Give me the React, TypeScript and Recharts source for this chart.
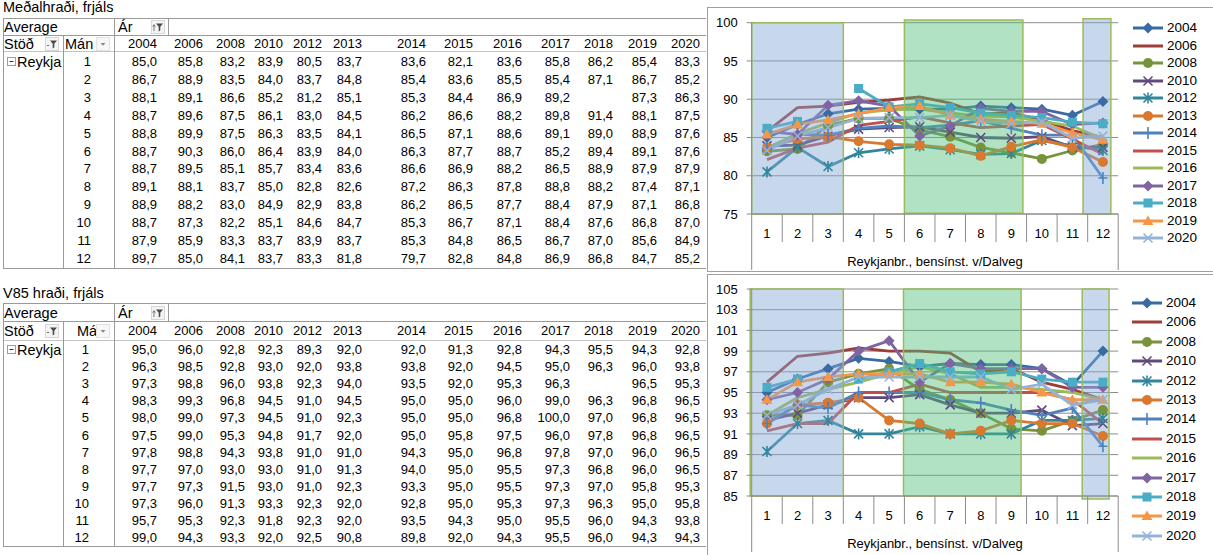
import React from 'react';
import { LineChart, Line, XAxis, YAxis, CartesianGrid, ReferenceArea } from 'recharts';

const YEARS = ['2004', '2006', '2008', '2010', '2012', '2013', '2014', '2015', '2016', '2017', '2018', '2019', '2020'];
const MONTHS = [1, 2, 3, 4, 5, 6, 7, 8, 9, 10, 11, 12];

// Meðalhraði, frjáls: one row per month, one value per year
const AVG_ROWS: (number | null)[][] = [
  [85.0, 85.8, 83.2, 83.9, 80.5, 83.7, 83.6, 82.1, 83.6, 85.8, 86.2, 85.4, 83.3],
  [86.7, 88.9, 83.5, 84.0, 83.7, 84.8, 85.4, 83.6, 85.5, 85.4, 87.1, 86.7, 85.2],
  [88.1, 89.1, 86.6, 85.2, 81.2, 85.1, 85.3, 84.4, 86.9, 89.2, null, 87.3, 86.3],
  [88.7, 89.6, 87.5, 86.1, 83.0, 84.5, 86.2, 86.6, 88.2, 89.8, 91.4, 88.1, 87.5],
  [88.8, 89.9, 87.5, 86.3, 83.5, 84.1, 86.5, 87.1, 88.6, 89.1, 89.0, 88.9, 87.6],
  [88.7, 90.3, 86.0, 86.4, 83.9, 84.0, 86.3, 87.7, 88.7, 85.2, 89.4, 89.1, 87.6],
  [88.7, 89.5, 85.1, 85.7, 83.4, 83.6, 86.6, 86.9, 88.2, 86.5, 88.9, 87.9, 87.9],
  [89.1, 88.1, 83.7, 85.0, 82.8, 82.6, 87.2, 86.3, 87.8, 88.8, 88.2, 87.4, 87.1],
  [88.9, 88.2, 83.0, 84.9, 82.9, 83.8, 86.2, 86.5, 87.7, 88.4, 87.9, 87.1, 86.8],
  [88.7, 87.3, 82.2, 85.1, 84.6, 84.7, 85.3, 86.7, 87.1, 88.4, 87.6, 86.8, 87.0],
  [87.9, 85.9, 83.3, 83.7, 83.9, 83.7, 85.3, 84.8, 86.5, 86.7, 87.0, 85.6, 84.9],
  [89.7, 85.0, 84.1, 83.7, 83.3, 81.8, 79.7, 82.8, 84.8, 86.9, 86.8, 84.7, 85.2],
];

// V85 hraði, frjáls
const V85_ROWS: (number | null)[][] = [
  [95.0, 96.0, 92.8, 92.3, 89.3, 92.0, 92.0, 91.3, 92.8, 94.3, 95.5, 94.3, 92.8],
  [96.3, 98.5, 92.8, 93.0, 92.0, 93.8, 93.8, 92.0, 94.5, 95.0, 96.3, 96.0, 93.8],
  [97.3, 98.8, 96.0, 93.8, 92.3, 94.0, 93.5, 92.0, 95.3, 96.3, null, 96.5, 95.3],
  [98.3, 99.3, 96.8, 94.5, 91.0, 94.5, 95.0, 95.0, 96.0, 99.0, 96.3, 96.8, 96.5],
  [98.0, 99.0, 97.3, 94.5, 91.0, 92.3, 95.0, 95.0, 96.8, 100.0, 97.0, 96.8, 96.5],
  [97.5, 99.0, 95.3, 94.8, 91.7, 92.0, 95.0, 95.8, 97.5, 96.0, 97.8, 96.8, 96.5],
  [97.8, 98.8, 94.3, 93.8, 91.0, 91.0, 94.3, 95.0, 96.8, 97.8, 97.0, 96.0, 96.5],
  [97.7, 97.0, 93.0, 93.0, 91.0, 91.3, 94.0, 95.0, 95.5, 97.3, 96.8, 96.0, 96.5],
  [97.7, 97.3, 91.5, 93.0, 91.0, 92.3, 93.3, 95.0, 95.5, 97.3, 97.0, 95.8, 95.3],
  [97.3, 96.0, 91.3, 93.3, 92.3, 92.0, 92.8, 95.0, 95.3, 97.3, 96.3, 95.0, 95.8],
  [95.7, 95.3, 92.3, 91.8, 92.3, 92.0, 93.5, 94.3, 95.0, 95.5, 96.0, 94.3, 93.8],
  [99.0, 94.3, 93.3, 92.0, 92.5, 90.8, 89.8, 92.0, 94.3, 95.5, 96.0, 94.3, 94.3],
];

const AVG_TICKS = [75, 80, 85, 90, 95, 100];
const V85_TICKS = [85, 87, 89, 91, 93, 95, 97, 99, 101, 103, 105];
const GROUP_LABEL = 'Reykjanbr., bensínst. v/Dalveg';

const FONT = '"Liberation Sans", Arial, sans-serif';
const GRID = '#8c8c8c';
const NUM_FS = 13;
const LABEL_FS = 14.5;

const SERIES_STYLE = [
  { color: '#3a6aa4', marker: 'diamond' },
  { color: '#9c3d3a', marker: 'none' },
  { color: '#77933c', marker: 'circle' },
  { color: '#604a7b', marker: 'x' },
  { color: '#31859c', marker: 'star' },
  { color: '#d9782f', marker: 'circle' },
  { color: '#4f81bd', marker: 'plus' },
  { color: '#c0504d', marker: 'none' },
  { color: '#9bbb59', marker: 'none' },
  { color: '#8064a2', marker: 'diamond' },
  { color: '#4bacc6', marker: 'square' },
  { color: '#f79646', marker: 'triangle' },
  { color: '#95b3d7', marker: 'x' },
];

const fmt = (v: number | null) => (v == null ? '' : v.toFixed(1).replace('.', ','));

function Marker({ kind, cx, cy, color }: { kind: string; cx: number; cy: number; color: string }) {
  switch (kind) {
    case 'diamond':
      return <polygon points={`${cx},${cy - 5.5} ${cx + 5.5},${cy} ${cx},${cy + 5.5} ${cx - 5.5},${cy}`} fill={color} />;
    case 'circle':
      return <circle cx={cx} cy={cy} r={5} fill={color} />;
    case 'square':
      return <rect x={cx - 4.5} y={cy - 4.5} width={9} height={9} fill={color} />;
    case 'triangle':
      return <polygon points={`${cx},${cy - 5.5} ${cx + 5.5},${cy + 4} ${cx - 5.5},${cy + 4}`} fill={color} />;
    case 'x':
      return (
        <path d={`M${cx - 4.5},${cy - 4.5}L${cx + 4.5},${cy + 4.5}M${cx - 4.5},${cy + 4.5}L${cx + 4.5},${cy - 4.5}`}
          stroke={color} strokeWidth={1.6} fill="none" />
      );
    case 'star':
      return (
        <path d={`M${cx - 4.5},${cy - 4.5}L${cx + 4.5},${cy + 4.5}M${cx - 4.5},${cy + 4.5}L${cx + 4.5},${cy - 4.5}M${cx},${cy - 5.5}V${cy + 5.5}`}
          stroke={color} strokeWidth={1.6} fill="none" />
      );
    case 'plus':
      return <path d={`M${cx},${cy - 6}V${cy + 6}M${cx - 4.5},${cy}H${cx + 4.5}`} stroke={color} strokeWidth={1.6} fill="none" />;
    default:
      return null;
  }
}

type Box = { x1: number; x2: number; y1: number; y2: number; fill: string; opacity: number };

const BLUE = '#85a8d5';
const GREEN = '#4fbf7a';
const AREA_OPACITY = 0.45;

interface ChartProps {
  rows: (number | null)[][];
  ticks: number[];
  top: number;
  height: number;
  plotTop: number;
  plotBottom: number;
  areas: Box[];
  legendTop: number;
  legendStep: number;
  legendLeft: number;
}

const PLOT_W = 366.5;
const BAND = PLOT_W / 12;

const CategoryTick = (props: any) => {
  const { x, y, payload, index } = props;
  const half = BAND / 2;
  return (
    <g>
      <line x1={x - half} x2={x - half} y1={y} y2={y + (index === 0 ? 56 : 28)} stroke={GRID} />
      {index === 11 && <line x1={x + half} x2={x + half} y1={y} y2={y + 56} stroke={GRID} />}
      <text x={x} y={y + 23.5} textAnchor="middle" fontSize={13} fontFamily={FONT} fill="#000">
        {payload.value}
      </text>
      {index === 0 && (
        <text x={x - half + PLOT_W / 2} y={y + 51.5} textAnchor="middle" fontSize={13} fontFamily={FONT} fill="#000">
          {GROUP_LABEL}
        </text>
      )}
    </g>
  );
};

function SpeedChart({ rows, ticks, top, height, plotTop, plotBottom, areas, legendTop, legendStep, legendLeft }: ChartProps) {
  const data = MONTHS.map((m, i) => {
    const d: Record<string, number | null> = { m };
    YEARS.forEach((y, j) => {
      d[`y${y}`] = rows[i][j];
    });
    return d;
  });

  return (
    <div style={{ position: 'absolute', left: 707, top, width: 506, height }}>
      <LineChart
        width={506}
        height={height}
        data={data}
        margin={{ top: plotTop, right: 94.8, bottom: 0, left: 4.7 }}
      >
        <CartesianGrid horizontal vertical={false} stroke={GRID} />
        <XAxis
          dataKey="m"
          type="number"
          domain={[0.5, 12.5]}
          ticks={MONTHS}
          interval={0}
          height={height - plotBottom}
          axisLine={{ stroke: GRID }}
          tickLine={false}
          tickSize={0}
          tickMargin={0}
          tick={<CategoryTick />}
          allowDataOverflow
        />
        <YAxis
          type="number"
          domain={[ticks[0], ticks[ticks.length - 1]]}
          ticks={ticks}
          interval={0}
          width={40}
          axisLine={{ stroke: GRID }}
          tickLine={{ stroke: GRID }}
          tickSize={5}
          tickMargin={9}
          tick={{ fill: '#000', fontSize: 13, fontFamily: FONT }}
          allowDataOverflow
        />
        {YEARS.map((y, j) => {
          const st = SERIES_STYLE[j];
          return (
            <Line
              key={y}
              type="linear"
              dataKey={`y${y}`}
              stroke={st.color}
              strokeWidth={2.8}
              isAnimationActive={false}
              connectNulls={false}
              activeDot={false}
              dot={
                st.marker === 'none'
                  ? false
                  : (p: any) =>
                      p.cy == null || p.value == null ? (
                        <g key={`d-${y}-${p.index}`} />
                      ) : (
                        <g key={`d-${y}-${p.index}`}>
                          <Marker kind={st.marker} cx={p.cx} cy={p.cy} color={st.color} />
                        </g>
                      )
              }
            />
          );
        })}
        {areas.map((a, i) => (
          <ReferenceArea
            key={`area-${i}`}
            x1={a.x1}
            x2={a.x2}
            y1={a.y1}
            y2={a.y2}
            fill={a.fill}
            fillOpacity={a.opacity}
            stroke="#9bbb59"
            strokeWidth={1.5}
            strokeOpacity={1}
            ifOverflow="visible"
            zIndex={450}
          />
        ))}
      </LineChart>
      {YEARS.map((y, j) => {
        const st = SERIES_STYLE[j];
        const cy = legendTop - top + j * legendStep;
        return (
          <div key={`lg-${y}`} style={{ position: 'absolute', left: legendLeft - 707, top: cy - 9, height: 18, display: 'flex', alignItems: 'center' }}>
            <svg width={30} height={14} style={{ display: 'block' }}>
              <line x1={0} x2={30} y1={7} y2={7} stroke={st.color} strokeWidth={3} />
              <Marker kind={st.marker} cx={15} cy={7} color={st.color} />
            </svg>
            <span style={{ marginLeft: 4, fontSize: 13.5, fontFamily: FONT, lineHeight: '18px', color: '#000' }}>{y}</span>
          </div>
        );
      })}
    </div>
  );
}

const COL_RIGHT = [157, 203, 245, 283, 322, 362, 426, 473, 522, 570, 613, 657, 700];
const LINE = '#9a9a9a';

interface TableGeom {
  title: string;
  titleCy: number;
  top: number;
  mid: number;
  head: number;
  row0: number;
  step: number;
  bottom: number;
  monthLabel: string;
  monthLabelX: number;
  monthRight: number;
  rows: (number | null)[][];
}

function Txt({ left, right, cy, fs = NUM_FS, children }: { left?: number; right?: number; cy: number; fs?: number; children: React.ReactNode }) {
  const style: React.CSSProperties = {
    position: 'absolute',
    top: cy - 9,
    height: 18,
    lineHeight: '18px',
    fontSize: fs,
    whiteSpace: 'nowrap',
    color: '#000',
  };
  if (right != null) {
    style.left = right - 80;
    style.width = 80;
    style.textAlign = 'right';
  } else {
    style.left = left;
  }
  return <div style={style}>{children}</div>;
}

function FilterIcon({ x, cy, sort }: { x: number; cy: number; sort?: boolean }) {
  return (
    <svg style={{ position: 'absolute', left: x, top: cy - 7 }} width={14} height={14}>
      <rect x={0.5} y={0.5} width={13} height={13} fill="#f4f4f4" stroke="#d6d6d6" />
      <path d="M5 3.5 L12 3.5 L9.3 6.8 L9.3 10.5 L7.7 11.5 L7.7 6.8 Z" fill="#4a4a4a" />
      {sort ? (
        <path d="M3 11 V5 M1.6 6.6 L3 4.6 L4.4 6.6" stroke="#777" fill="none" />
      ) : (
        <path d="M1.8 8.5 H4.2" stroke="#777" />
      )}
    </svg>
  );
}

function DropIcon({ x, cy }: { x: number; cy: number }) {
  return (
    <svg style={{ position: 'absolute', left: x, top: cy - 7 }} width={14} height={14}>
      <rect x={0.5} y={0.5} width={13} height={13} fill="#f7f7f7" stroke="#e2e2e2" />
      <path d="M4.5 6 L9.5 6 L7 8.8 Z" fill="#888" />
    </svg>
  );
}

function HLine({ y, x1, x2, color = LINE }: { y: number; x1: number; x2: number; color?: string }) {
  return <div style={{ position: 'absolute', left: x1, top: y, width: x2 - x1, height: 1, background: color }} />;
}

function VLine({ x, y1, y2, color = LINE }: { x: number; y1: number; y2: number; color?: string }) {
  return <div style={{ position: 'absolute', left: x, top: y1, width: 1, height: y2 - y1, background: color }} />;
}

function PivotTable(g: TableGeom) {
  const avgCy = (g.top + g.mid) / 2 + 0.5;
  const headCy = (g.mid + g.head) / 2 + 0.5;
  return (
    <>
      <Txt left={3} cy={g.titleCy} fs={LABEL_FS}>{g.title}</Txt>
      <HLine y={g.top} x1={3} x2={706} />
      <HLine y={g.mid} x1={3} x2={706} />
      <HLine y={g.head} x1={3} x2={706} color="#c4c4c4" />
      <HLine y={g.bottom} x1={3} x2={706} />
      <VLine x={3} y1={g.top} y2={g.bottom + 1} />
      <VLine x={63} y1={g.mid} y2={g.bottom} />
      <VLine x={114} y1={g.top} y2={g.bottom} />
      <VLine x={168} y1={g.top} y2={g.mid} />
      <Txt left={4} cy={avgCy} fs={LABEL_FS}>Average</Txt>
      <Txt left={118} cy={avgCy} fs={LABEL_FS}>Ár</Txt>
      <FilterIcon x={151} cy={avgCy} sort />
      <Txt left={4} cy={headCy} fs={LABEL_FS}>Stöð</Txt>
      <FilterIcon x={45} cy={headCy} />
      <Txt left={g.monthLabelX} cy={headCy} fs={LABEL_FS}>{g.monthLabel}</Txt>
      <DropIcon x={96} cy={headCy} />
      {YEARS.map((y, j) => (
        <Txt key={`h-${y}`} right={COL_RIGHT[j]} cy={headCy}>{y}</Txt>
      ))}
      <svg style={{ position: 'absolute', left: 7, top: g.row0 - 5 }} width={10} height={10}>
        <rect x={0.5} y={0.5} width={8} height={8} fill="#fff" stroke="#8aa0b8" />
        <path d="M2.5 4.5 H6.5" stroke="#333" />
      </svg>
      <Txt left={17} cy={g.row0} fs={LABEL_FS}>Reykja</Txt>
      {MONTHS.map((m, i) => {
        const cy = g.row0 + i * g.step;
        return (
          <React.Fragment key={`r-${m}`}>
            <Txt right={g.monthRight} cy={cy}>{m}</Txt>
            {g.rows[i].map((v, j) => (
              <Txt key={`c-${m}-${j}`} right={COL_RIGHT[j]} cy={cy}>{fmt(v)}</Txt>
            ))}
          </React.Fragment>
        );
      })}
    </>
  );
}

export default function App() {
  return (
    <div style={{ position: 'absolute', left: 0, top: 0, width: 1213, height: 555, overflow: 'hidden', background: '#fff', fontFamily: FONT }}>
      <PivotTable
        title="Meðalhraði, frjáls"
        titleCy={6.5}
        top={18}
        mid={35}
        head={51}
        row0={61.7}
        step={17.96}
        bottom={268}
        monthLabel="Mán"
        monthLabelX={65}
        monthRight={91}
        rows={AVG_ROWS}
      />
      <PivotTable
        title="V85 hraði, frjáls"
        titleCy={293}
        top={303}
        mid={321}
        head={340}
        row0={350}
        step={17.12}
        bottom={546}
        monthLabel="Má"
        monthLabelX={77}
        monthRight={89}
        rows={V85_ROWS}
      />

      <div style={{ position: 'absolute', left: 707, top: 7, width: 520, height: 265, border: '1px solid #a0a0a0', boxSizing: 'border-box', background: '#fff' }} />
      <div style={{ position: 'absolute', left: 707, top: 274, width: 520, height: 300, border: '1px solid #a0a0a0', boxSizing: 'border-box', background: '#fff' }} />

      <SpeedChart
        rows={AVG_ROWS}
        ticks={AVG_TICKS}
        top={0}
        height={272}
        plotTop={22.7}
        plotBottom={214}
        legendTop={28.3}
        legendStep={17.5}
        legendLeft={1133}
        areas={[
          { x1: 0.5, x2: 3.5, y1: 75, y2: 100, fill: BLUE, opacity: AREA_OPACITY },
          { x1: 5.5, x2: 9.38, y1: 75.1, y2: 100.35, fill: GREEN, opacity: AREA_OPACITY },
          { x1: 11.35, x2: 12.26, y1: 75, y2: 100.5, fill: BLUE, opacity: AREA_OPACITY },
        ]}
      />
      <SpeedChart
        rows={V85_ROWS}
        ticks={V85_TICKS}
        top={274}
        height={281}
        plotTop={15}
        plotBottom={222}
        legendTop={303}
        legendStep={19.4}
        legendLeft={1132}
        areas={[
          { x1: 0.45, x2: 3.5, y1: 85, y2: 105, fill: BLUE, opacity: AREA_OPACITY },
          { x1: 5.47, x2: 9.32, y1: 85, y2: 105, fill: GREEN, opacity: AREA_OPACITY },
          { x1: 11.32, x2: 12.2, y1: 84.7, y2: 105, fill: BLUE, opacity: AREA_OPACITY },
        ]}
      />
    </div>
  );
}
